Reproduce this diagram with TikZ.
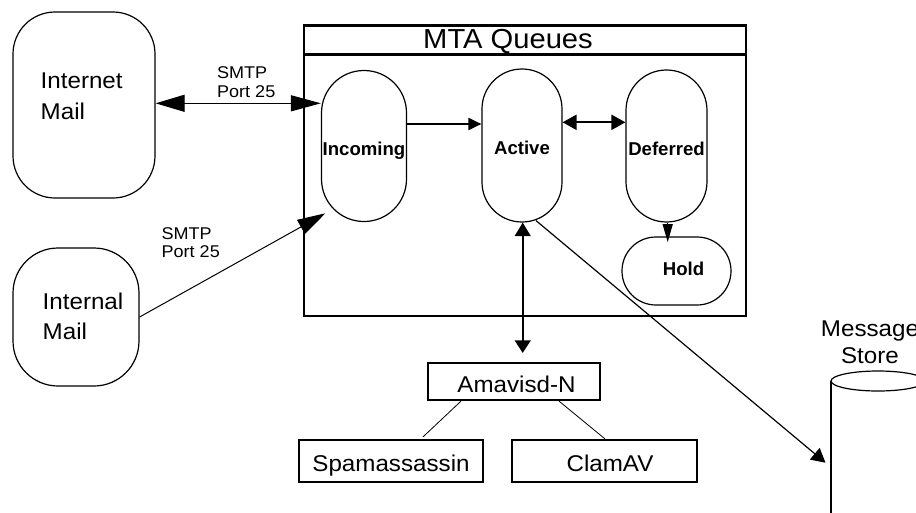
\documentclass[tikz,border=0pt]{standalone}
\usepackage{fontspec}
\setmainfont{Liberation Sans}
\newfontfamily\rfont{Liberation Sans}[FakeStretch=1.06]
\usetikzlibrary{arrows.meta}
\begin{document}
\begin{tikzpicture}[x=1pt,y=-1pt,
  big/.style={font=\rfont\fontsize{22.8}{31.5}\selectfont},
  small/.style={font=\rfont\fontsize{17}{19}\selectfont},
  qlbl/.style={font=\bfseries\fontsize{18.6}{22}\selectfont},
  roundbox/.style={draw, line width=1.2pt, rectangle, inner sep=0pt},
  sqbox/.style={draw, line width=2.2pt, rectangle, inner sep=0pt},
  txt/.style={inner sep=0pt, align=left, anchor=south west},
]
\clip (0,0) rectangle (916,512);
\fill[white] (0,0) rectangle (916,512);

% external mail sources
\node[roundbox, rounded corners=42pt, minimum width=142pt, minimum height=186pt] (inet) at (84,105) {};
\node[big, txt] (inettxt) at (40.5,120.3) {Internet\\Mail};
\node[roundbox, rounded corners=45pt, minimum width=126pt, minimum height=138pt] (intm) at (76,317) {};
\node[txt, font=\rfont\fontsize{22.8}{30}\selectfont] (intmtxt) at (42.5,340) {Internal\\Mail};

% MTA queues frame
\node[sqbox, minimum width=442pt, minimum height=290.5pt] (mta) at (525,170.75) {};
\node[sqbox, minimum width=442pt, text height=22.8pt, text depth=6.2pt,
      font=\rfont\fontsize{27.5}{30}\selectfont] (title) at (525,40) {\hspace*{-34pt}MTA Queues};

% queues
\node[roundbox, qlbl, rounded corners=42.4pt, minimum width=85pt, text height=85.2pt, text depth=65.8pt] (inc) at (364,146) {Incoming};
\node[roundbox, qlbl, rounded corners=39.9pt, minimum width=80pt, text height=85pt, text depth=68pt] (act) at (522,145.5) {Active};
\node[roundbox, qlbl, rounded corners=40.4pt, minimum width=81pt, text height=85pt, text depth=67pt] (def) at (666.5,146) {Deferred};
\node[roundbox, qlbl, rounded corners=33.9pt, minimum width=109pt, text height=38pt, text depth=30pt] (hold) at (676.5,271) {\hspace*{14pt}Hold};

% filters
\node[sqbox, big, minimum width=172pt, text height=29pt, text depth=7.7pt] (amav) at (514,381.65) {\hspace*{5pt}Amavisd-N};
\node[sqbox, big, minimum width=184pt, text height=31.5pt, text depth=10.2pt] (spam) at (391,460.85) {Spamassassin};
\node[sqbox, big, minimum width=185pt, text height=31.5pt, text depth=10.2pt] (clam) at (604.5,460.85) {\hspace*{11pt}ClamAV};

% message store
\draw[line width=1.7pt] (831,381) -- (831,530);
\draw[line width=1.7pt] (925,381) -- (925,530);
\draw[line width=1.2pt] (878,381) ellipse [x radius=47pt, y radius=10pt];
\coordinate (storein) at (825.5,462.7);
\node[inner sep=0pt, align=center, anchor=south, font=\rfont\fontsize{22.8}{26.7}\selectfont] (storelbl) at (870,364) {Message\\Store};

% SMTP labels
\node[small, txt, font=\rfont\fontsize{17}{19}\selectfont] (smtp1) at (217,98.3) {SMTP\\Port 25};
\node[small, txt, font=\rfont\fontsize{17}{18.5}\selectfont] (smtp2) at (161.5,258.3) {SMTP\\Port 25};

% connectors
\draw[line width=1.2pt, {Triangle[length=29pt,width=17pt]}-{Triangle[length=30pt,width=16pt]}]
  ([yshift=1.7pt]inet.east) -- ([yshift=42.7pt]inc.west);
\draw[line width=1pt, -{Triangle[length=28pt,width=16pt]}]
  (intm.east) -- ([xshift=4.5pt,yshift=8.8pt]inc.south west);
\draw[line width=2pt, -{Triangle[length=13pt,width=12pt]}]
  ([yshift=22pt]inc.east) -- ([yshift=21.5pt]act.west);
\draw[line width=2.2pt, {Triangle[length=14pt,width=15pt]}-{Triangle[length=14pt,width=15pt]}]
  ([yshift=23.2pt]act.east) -- ([yshift=23.7pt]def.west);
\draw[line width=1.2pt, -{Triangle[length=18pt,width=10pt]}]
  ([xshift=1.2pt]def.south) -- ([xshift=-8.8pt,yshift=-5.7pt]hold.north);
\draw[line width=2.2pt, {Triangle[length=13.5pt,width=15.7pt]}-{Triangle[length=12.5pt,width=15.7pt]}]
  ([xshift=0.7pt]act.south) -- ([xshift=8.7pt,yshift=9.3pt]amav.north);
\draw[line width=1.2pt, -{Triangle[length=14pt,width=15pt]}]
  ([xshift=14pt,yshift=2pt]act.south) -- (storein);
\draw[line width=0.8pt] ([xshift=-53pt]amav.south) -- ([xshift=32pt,yshift=2pt]spam.north);
\draw[line width=0.8pt] ([xshift=45pt]amav.south) -- ([xshift=0.5pt]clam.north);
\end{tikzpicture}
\end{document}
